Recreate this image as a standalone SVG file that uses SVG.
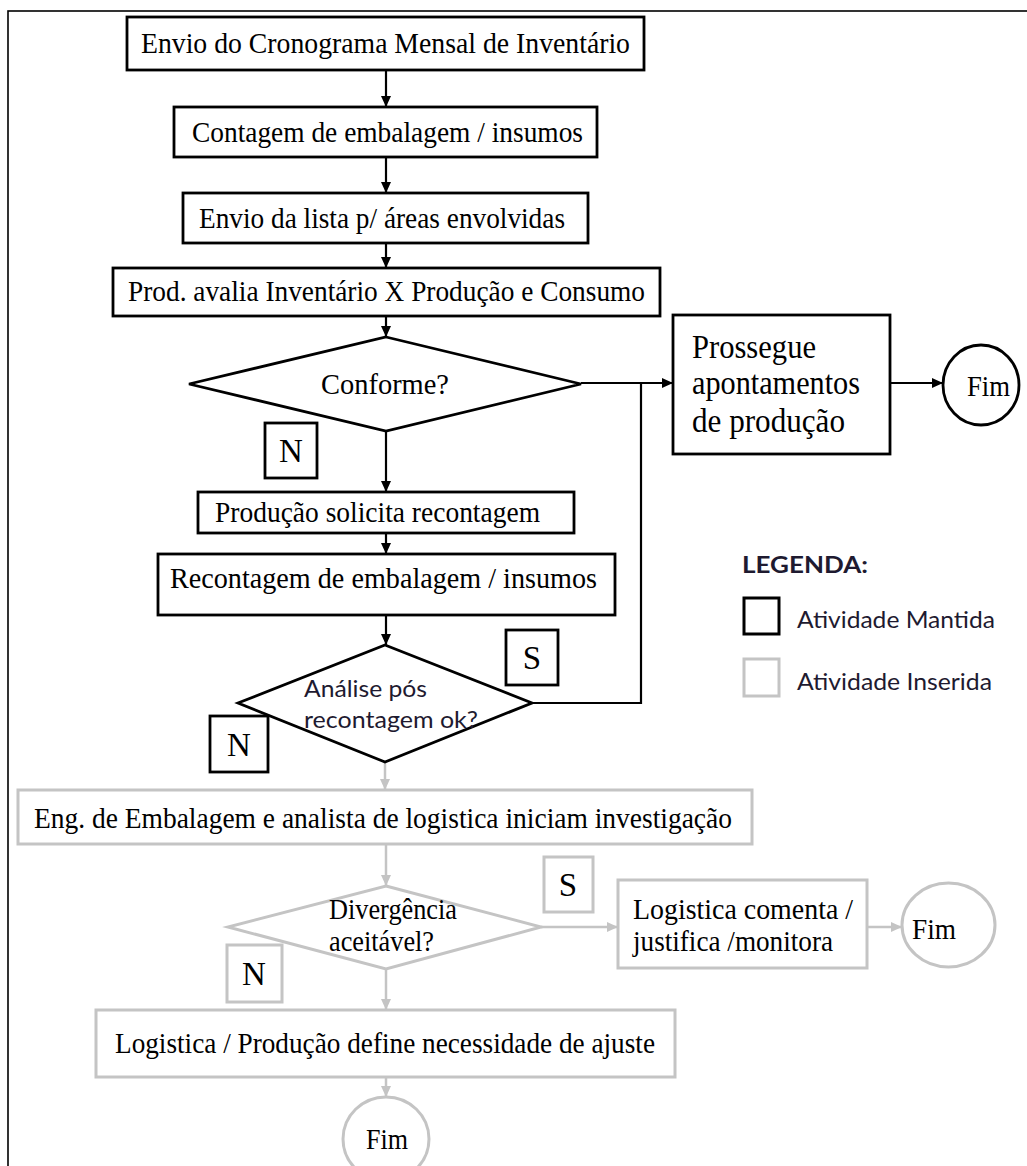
<svg xmlns="http://www.w3.org/2000/svg" width="1027" height="1166" viewBox="0 0 1027 1166">
<style>
.bk{fill:#fff;stroke:#000;stroke-width:2.8}
.gr{fill:#fff;stroke:#c4c4c4;stroke-width:3}
.t{font-family:"Liberation Serif","Times New Roman",serif;font-size:29px;fill:#000}
.tb{font-family:"Liberation Serif","Times New Roman",serif;font-size:33px;fill:#000}
.c{font-family:Lato,"Open Sans",sans-serif;font-size:24px;fill:#1e1a30}
.cl{stroke:#000;stroke-width:2.2;fill:none}
.cg{stroke:#c4c4c4;stroke-width:2.5;fill:none}
</style>
<defs>
<marker id="ab" markerUnits="userSpaceOnUse" markerWidth="12" markerHeight="10" refX="11" refY="5" orient="auto"><path d="M0,0 L11,5 L0,10 z" fill="#000"/></marker>
<marker id="ag" markerUnits="userSpaceOnUse" markerWidth="12" markerHeight="10" refX="11" refY="5" orient="auto"><path d="M0,0 L11,5 L0,10 z" fill="#c4c4c4"/></marker>
</defs>
<rect x="0" y="0" width="1027" height="1166" fill="#fff"/>
<rect x="8" y="11" width="1040" height="1180" fill="none" stroke="#000" stroke-width="1.6"/>

<g id="connectors">
<line class="cl" x1="386" y1="70" x2="386" y2="107" marker-end="url(#ab)"/>
<line class="cl" x1="386" y1="157" x2="386" y2="193" marker-end="url(#ab)"/>
<line class="cl" x1="386" y1="243" x2="386" y2="268" marker-end="url(#ab)"/>
<line class="cl" x1="386" y1="316" x2="386" y2="337" marker-end="url(#ab)"/>
<line class="cl" x1="581" y1="383" x2="673" y2="383" marker-end="url(#ab)"/>
<line class="cl" x1="890" y1="383" x2="943" y2="383" marker-end="url(#ab)"/>
<line class="cl" x1="386" y1="431" x2="386" y2="492" marker-end="url(#ab)"/>
<line class="cl" x1="386" y1="533" x2="386" y2="554" marker-end="url(#ab)"/>
<line class="cl" x1="386" y1="615" x2="386" y2="645" marker-end="url(#ab)"/>
<polyline class="cl" points="532,703 641,703 641,383"/>
<line class="cg" x1="385" y1="762" x2="385" y2="790" marker-end="url(#ag)"/>
<line class="cg" x1="386" y1="844" x2="386" y2="886" marker-end="url(#ag)"/>
<line class="cg" x1="541" y1="927" x2="618" y2="927" marker-end="url(#ag)"/>
<line class="cg" x1="867" y1="927" x2="902" y2="927" marker-end="url(#ag)"/>
<line class="cg" x1="386" y1="969" x2="386" y2="1010" marker-end="url(#ag)"/>
<line class="cg" x1="386" y1="1077" x2="386" y2="1097" marker-end="url(#ag)"/>
</g>

<g id="n1"><rect class="bk" x="127" y="17" width="517" height="53"/><text class="t" x="141" y="53" textLength="489" lengthAdjust="spacingAndGlyphs">Envio do Cronograma  Mensal de Inventário</text></g>
<g id="n2"><rect class="bk" x="174" y="107" width="423" height="50"/><text class="t" x="192" y="142" textLength="391" lengthAdjust="spacingAndGlyphs">Contagem de embalagem / insumos</text></g>
<g id="n3"><rect class="bk" x="183" y="193" width="405" height="50"/><text class="t" x="199" y="228" textLength="366" lengthAdjust="spacingAndGlyphs">Envio da lista p/ áreas envolvidas</text></g>
<g id="n4"><rect class="bk" x="113" y="268" width="547" height="48"/><text class="t" x="128" y="301" textLength="517" lengthAdjust="spacingAndGlyphs">Prod. avalia Inventário X Produção e Consumo</text></g>
<g id="d1"><polygon class="bk" points="386,337 581,384 386,431 189,384"/><text class="t" x="321" y="394" textLength="128" lengthAdjust="spacingAndGlyphs">Conforme?</text></g>
<g id="n5"><rect class="bk" x="673" y="315" width="217" height="139"/>
<text class="tb" x="692" y="358" textLength="124" lengthAdjust="spacingAndGlyphs">Prossegue</text>
<text class="tb" x="692" y="394" textLength="168" lengthAdjust="spacingAndGlyphs">apontamentos</text>
<text class="tb" x="692" y="432" textLength="153" lengthAdjust="spacingAndGlyphs">de produção</text></g>
<g id="f1"><ellipse class="bk" cx="981" cy="385" rx="38" ry="40"/><text class="t" x="967" y="396" textLength="43" lengthAdjust="spacingAndGlyphs">Fim</text></g>
<g id="l1"><rect class="bk" x="265" y="423" width="52" height="55"/><text class="tb" x="291" y="462" text-anchor="middle">N</text></g>
<g id="n6"><rect class="bk" x="198" y="492" width="376" height="41"/><text class="t" x="215" y="522" textLength="325" lengthAdjust="spacingAndGlyphs">Produção solicita recontagem</text></g>
<g id="n7"><rect class="bk" x="158" y="554" width="457" height="61"/><text class="t" x="170" y="588" textLength="427" lengthAdjust="spacingAndGlyphs">Recontagem de embalagem  / insumos</text></g>
<g id="d2"><polygon class="bk" points="385,645 532,703 385,762 238,703"/>
<text class="c" x="304" y="697" textLength="123" lengthAdjust="spacingAndGlyphs">Análise pós</text>
<text class="c" x="304" y="728" textLength="174" lengthAdjust="spacingAndGlyphs">recontagem ok?</text></g>
<g id="l2"><rect class="bk" x="506" y="630" width="52" height="55"/><text class="tb" x="532" y="669" text-anchor="middle">S</text></g>
<g id="l3"><rect class="bk" x="210" y="716" width="58" height="56"/><text class="tb" x="239" y="756" text-anchor="middle">N</text></g>
<g id="n8"><rect class="gr" x="18" y="790" width="734" height="54"/><text class="t" x="34" y="828" textLength="698" lengthAdjust="spacingAndGlyphs">Eng. de Embalagem e analista de logistica  iniciam investigação</text></g>
<g id="d3"><polygon class="gr" points="386,886 541,927 386,969 228,927"/>
<text class="t" x="329" y="919" textLength="128" lengthAdjust="spacingAndGlyphs">Divergência</text>
<text class="t" x="329" y="951" textLength="105" lengthAdjust="spacingAndGlyphs">aceitável?</text></g>
<g id="l4"><rect class="gr" x="544" y="857" width="49" height="55"/><text class="tb" x="568" y="896" text-anchor="middle">S</text></g>
<g id="n9"><rect class="gr" x="618" y="880" width="249" height="88"/>
<text class="t" x="633" y="919" textLength="220" lengthAdjust="spacingAndGlyphs">Logistica comenta /</text>
<text class="t" x="633" y="951" textLength="200" lengthAdjust="spacingAndGlyphs">justifica /monitora</text></g>
<g id="f2"><ellipse class="gr" cx="948.5" cy="925" rx="46.5" ry="42"/><text class="t" x="912" y="939" textLength="44" lengthAdjust="spacingAndGlyphs">Fim</text></g>
<g id="l5"><rect class="gr" x="227" y="945" width="55" height="57"/><text class="tb" x="254" y="985" text-anchor="middle">N</text></g>
<g id="n10"><rect class="gr" x="96" y="1010" width="579" height="67"/><text class="t" x="115" y="1053" textLength="540" lengthAdjust="spacingAndGlyphs">Logistica / Produção define necessidade de ajuste</text></g>
<g id="f3"><ellipse class="gr" cx="386" cy="1139" rx="43" ry="42"/><text class="t" x="366" y="1149" textLength="42" lengthAdjust="spacingAndGlyphs">Fim</text></g>

<g id="legend">
<text x="742" y="573" font-family="Lato,'Open Sans',sans-serif" font-weight="bold" font-size="22" fill="#1e1a30" textLength="126" lengthAdjust="spacingAndGlyphs">LEGENDA:</text>
<rect x="744" y="598" width="35" height="36" fill="#fff" stroke="#000" stroke-width="3"/>
<text class="c" x="797" y="628" font-size="21" textLength="198" lengthAdjust="spacingAndGlyphs">Atividade Mantida</text>
<rect x="744" y="659" width="35" height="37" fill="#fff" stroke="#c4c4c4" stroke-width="3"/>
<text class="c" x="797" y="690" font-size="21" textLength="195" lengthAdjust="spacingAndGlyphs">Atividade Inserida</text>
</g>
</svg>
